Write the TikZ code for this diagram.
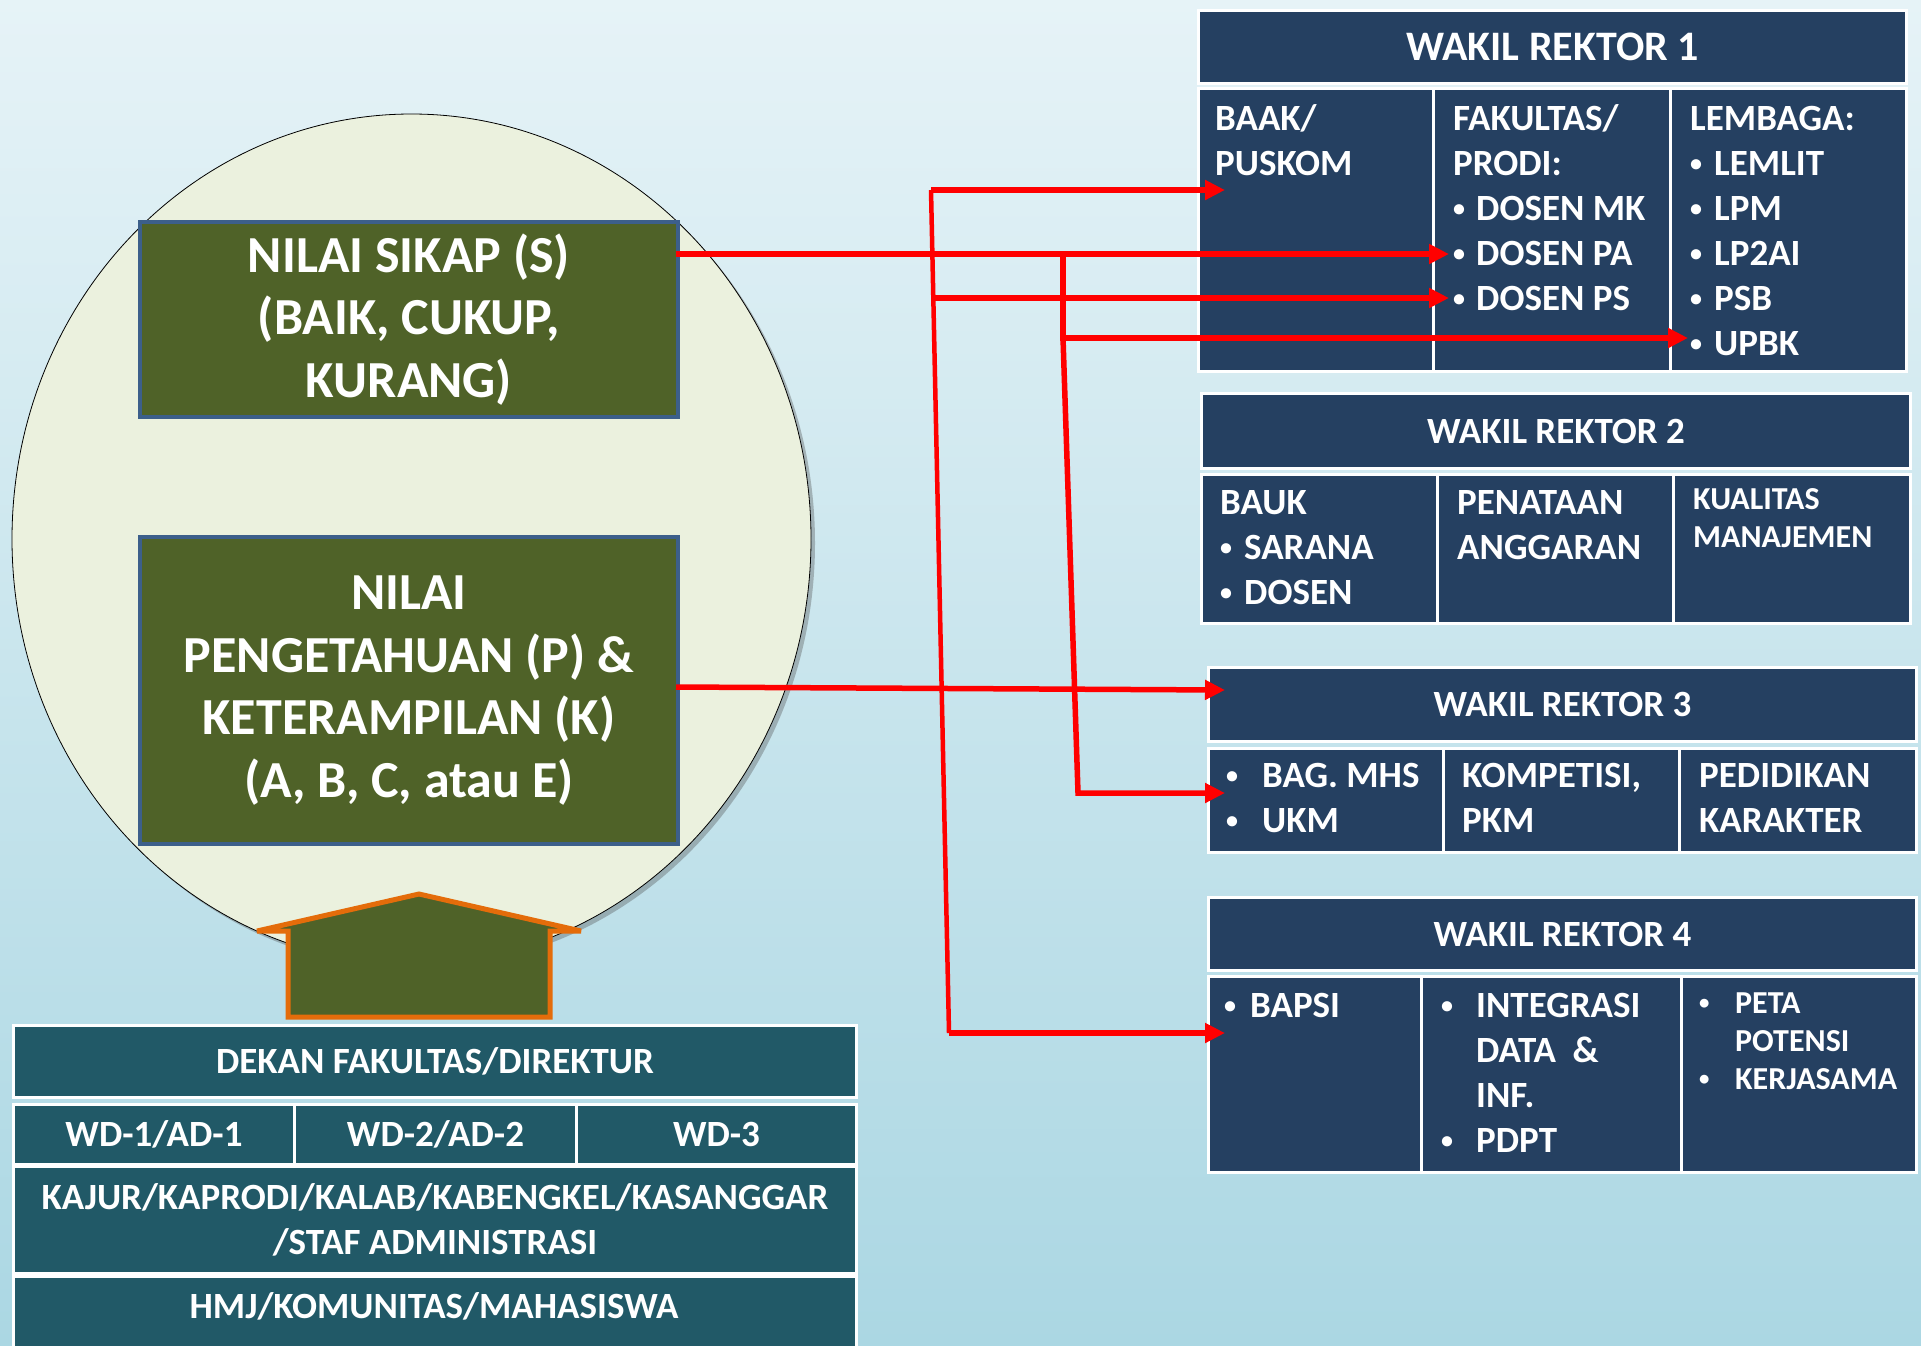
\documentclass[tikz,border=0pt]{standalone}
\usepackage{fontspec}
\usepackage{graphicx}
\setmainfont{Carlito}
\usetikzlibrary{arrows.meta,shapes.geometric,shadows}

\definecolor{navy}{HTML}{254061}
\definecolor{dekanteal}{HTML}{215967}
\definecolor{olivebox}{HTML}{4F6228}
\definecolor{boxedge}{HTML}{3C5F8A}
\definecolor{ovalfill}{HTML}{EBF1DE}
\definecolor{roofline}{HTML}{E46C0A}
\definecolor{bgtop}{HTML}{E6F3F7}
\definecolor{bgbot}{HTML}{ABD7E3}

\newcommand{\cellfont}{\bfseries\fontsize{37}{45}\selectfont}
\newcommand{\smallcellfont}{\bfseries\fontsize{32}{38}\selectfont}
\newcommand{\valfont}{\bfseries\fontsize{52}{62.5}\selectfont}
\newcommand{\cellrows}[1]{\begin{tabular}[t]{@{}l@{}}#1\end{tabular}}
\newcommand{\bul}[1]{\makebox[#1][l]{\raisebox{.1em}{\scalebox{.65}{\textbullet}}}}

\begin{document}
\begin{tikzpicture}[
    x=1pt,y=-1pt,
    >=Stealth,
    base/.style={anchor=north west,inner sep=0pt,draw=white,line width=3pt},
    hdr/.style={base,fill=navy,text=white,font=\cellfont},
    cell/.style={base,fill=navy},
    dcell/.style={base,fill=dekanteal,text=white,font=\cellfont,align=center},
    txt/.style={anchor=base west,inner sep=0pt,text=white,font=\cellfont},
    valbox/.style={anchor=north west,inner sep=0pt,fill=olivebox,draw=boxedge,line width=4pt,
        text=white,font=\valfont,align=center},
    arr/.style={draw=red,line width=5.5pt,line join=miter,-{Triangle[length=20pt,width=19pt]}},
    redline/.style={draw=red,line width=4.5pt},
    ]
    \useasboundingbox (0,0) rectangle (1921,1345);
    \fill[top color=bgtop,bottom color=bgbot] (0,0) rectangle (1921,1345);

    % left part
    \node[ellipse,draw=black,line width=.8pt,fill=ovalfill,minimum width=799pt,minimum height=850pt,
        drop shadow={shadow xshift=4pt,shadow yshift=-4pt,opacity=.35,fill=black!70}] (oval) at (411.5,539) {};
    \node[valbox,minimum width=538pt,minimum height=195pt] (sikap) at (138,220)
        {NILAI SIKAP (S)\\(BAIK, CUKUP,\\KURANG)};
    \node[valbox,minimum width=538pt,minimum height=307pt] (peng) at (138,535)
        {NILAI\\PENGETAHUAN (P) \&\\KETERAMPILAN (K)\\(A, B, C, atau E)};
    \draw[fill=olivebox,draw=roofline,line width=5pt,line join=miter,miter limit=2]
        (257,931) -- (419,894) -- (581,931) -- (550,931) -- (550,1017) -- (288,1017) -- (288,931) -- cycle;

    \node[dcell,minimum width=843pt,minimum height=72pt] (dekan) at (12,1024) {DEKAN FAKULTAS/DIREKTUR};
    \node[dcell,minimum width=281pt,minimum height=60pt] (wd1) at (12,1103) {WD-1/AD-1};
    \node[dcell,minimum width=282pt,minimum height=60pt] (wd2) at (293,1103) {WD-2/AD-2};
    \node[dcell,minimum width=280pt,minimum height=60pt] (wd3) at (575,1103) {WD-3};
    \node[dcell,minimum width=843pt,minimum height=107pt] (kajur) at (12,1165)
        {KAJUR/KAPRODI/KALAB/KABENGKEL/KASANGGAR\\/STAF ADMINISTRASI};
    \node[dcell,minimum width=843pt,minimum height=80pt] (hmj) at (12,1275) {};
    \node[anchor=center,text=white,font=\cellfont] (hmjtext) at (434,1306) {HMJ/KOMUNITAS/MAHASISWA};

    % wakil rektor 1
    \node[hdr,minimum width=708pt,minimum height=73pt,font=\bfseries\fontsize{42}{50}\selectfont] (wr1) at (1197,9) {WAKIL REKTOR 1};
    \node[cell,minimum width=235pt,minimum height=283pt] (wr1a) at (1197,87) {};
    \node[cell,minimum width=237pt,minimum height=283pt] (wr1b) at (1432,87) {};
    \node[cell,minimum width=236pt,minimum height=283pt] (wr1c) at (1669,87) {};
    \node[txt] (baak) at (1215,130) {\cellrows{BAAK/\\PUSKOM}};
    \node[txt] (fak) at (1453,130) {\cellrows{FAKULTAS/\\PRODI:\\\bul{23pt}DOSEN MK\\\bul{23pt}DOSEN PA\\\bul{23pt}DOSEN PS}};
    \node[txt] (lemb) at (1690,130) {\cellrows{LEMBAGA:\\\bul{24pt}LEMLIT\\\bul{24pt}LPM\\\bul{24pt}LP2AI\\\bul{24pt}PSB\\\bul{24pt}UPBK}};

    % wakil rektor 2
    \node[hdr,minimum width=709pt,minimum height=75pt] (wr2) at (1200,392) {WAKIL REKTOR 2};
    \node[cell,minimum width=236pt,minimum height=149pt] (wr2a) at (1200,473) {};
    \node[cell,minimum width=236pt,minimum height=149pt] (wr2b) at (1436,473) {};
    \node[cell,minimum width=237pt,minimum height=149pt] (wr2c) at (1672,473) {};
    \node[txt] (bauk) at (1220,514) {\cellrows{BAUK\\\bul{24pt}SARANA\\\bul{24pt}DOSEN}};
    \node[txt] (penat) at (1457,514) {\cellrows{PENATAAN\\ANGGARAN}};
    \node[txt,font=\smallcellfont] (kual) at (1693,509) {\cellrows{KUALITAS\\MANAJEMEN}};

    % wakil rektor 3
    \node[hdr,minimum width=708pt,minimum height=74pt] (wr3) at (1207,666) {WAKIL REKTOR 3};
    \node[cell,minimum width=235pt,minimum height=104pt] (wr3a) at (1207,747) {};
    \node[cell,minimum width=236pt,minimum height=104pt] (wr3b) at (1442,747) {};
    \node[cell,minimum width=237pt,minimum height=104pt] (wr3c) at (1678,747) {};
    \node[txt] (bagmhs) at (1226,787) {\cellrows{\bul{36pt}BAG. MHS\\\bul{36pt}UKM}};
    \node[txt] (kompt) at (1462,787) {\cellrows{KOMPETISI,\\PKM}};
    \node[txt] (kartr) at (1699,787) {\cellrows{PEDIDIKAN\\KARAKTER}};

    % wakil rektor 4
    \node[hdr,minimum width=708pt,minimum height=73pt] (wr4) at (1207,896) {WAKIL REKTOR 4};
    \node[cell,minimum width=213pt,minimum height=196pt] (wr4a) at (1207,975) {};
    \node[cell,minimum width=260pt,minimum height=196pt] (wr4b) at (1420,975) {};
    \node[cell,minimum width=235pt,minimum height=196pt] (wr4c) at (1680,975) {};
    \node[txt] (bapsi) at (1224,1017) {\cellrows{\bul{26pt}BAPSI}};
    \node[txt] (integ) at (1441,1017) {\cellrows{\bul{35pt}INTEGRASI\\\hspace*{35pt}DATA\ \ \&\\\hspace*{35pt}INF.\\\bul{35pt}PDPT}};
    \node[txt,font=\smallcellfont] (peta) at (1699,1013) {\cellrows{\bul{36pt}PETA\\\hspace*{36pt}POTENSI\\\bul{36pt}KERJASAMA}};

    % red connectors
    \coordinate (sOut) at (676,254);
    \coordinate (kOut) at (676,687);
    \coordinate (j1) at (1063,254);
    \coordinate (j2) at (1063,338);
    \coordinate (j3) at (1078,793);
    \coordinate (b1) at (931,190);
    \coordinate (b2) at (933,298);
    \coordinate (b3) at (949,1033);
    \coordinate (tBaak) at (1225,190);
    \coordinate (tPA) at (1449,254);
    \coordinate (tPS) at (1449,298);
    \coordinate (tUpbk) at (1688,338);
    \coordinate (tWr3) at (1225,690);
    \coordinate (tUkm) at (1225,793);
    \coordinate (tBapsi) at (1225,1033);

    \draw[redline] (b1) -- (b3);
    \path (sOut) edge[arr] (tPA);
    \path (kOut) edge[arr] (tWr3);
    \path (b1) edge[arr] (tBaak);
    \path (b2) edge[arr] (tPS);
    \path (b3) edge[arr] (tBapsi);
    \draw[arr] (j1) -- (j2) -- (tUpbk);
    \draw[arr] (j2) -- (j3) -- (tUkm);
\end{tikzpicture}
\end{document}
